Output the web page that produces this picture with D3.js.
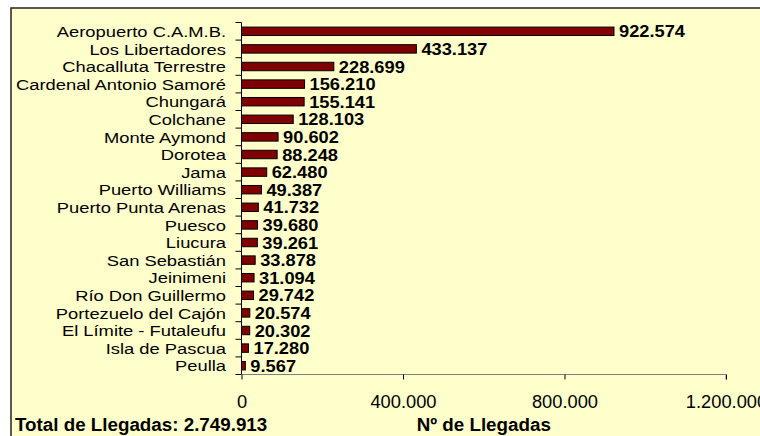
<!DOCTYPE html>
<html>
<head>
<meta charset="utf-8">
<script src="https://cdn.jsdelivr.net/npm/d3@7"></script>
<style>
  body { margin: 0; background: #fff; }
  svg { display: block; font-family: "Liberation Sans", Arial, sans-serif; }
</style>
</head>
<body>
<div id="chart"></div>
<script>
const categories = [
  "Aeropuerto C.A.M.B.", "Los Libertadores", "Chacalluta Terrestre",
  "Cardenal Antonio Samoré", "Chungará", "Colchane", "Monte Aymond",
  "Dorotea", "Jama", "Puerto Williams", "Puerto Punta Arenas", "Puesco",
  "Liucura", "San Sebastián", "Jeinimeni", "Río Don Guillermo",
  "Portezuelo del Cajón", "El Límite - Futaleufu", "Isla de Pascua", "Peulla"
];
const arrivals = [
  922574, 433137, 228699, 156210, 155141, 128103, 90602, 88248, 62480,
  49387, 41732, 39680, 39261, 33878, 31094, 29742, 20574, 20302, 17280, 9567
];
const xTicks = [0, 400000, 800000, 1200000];
const totalLabel = "Total de Llegadas: 2.749.913";
const axisTitle = "Nº de Llegadas";

const w = 760;
const h = 436;

// miles con punto
const fmt = v => d3.format(",")(v).replace(/,/g, ".");

const svg = d3.select("#chart")
  .append("svg")
  .attr("width", w)
  .attr("height", h);

svg.append("rect")
  .attr("x", 11).attr("y", 8)
  .attr("width", w + 20).attr("height", h + 20)
  .attr("fill", "#ffffcc")
  .attr("stroke", "#222")
  .attr("stroke-width", 1.5);

const xScale = d3.scaleLinear()
  .domain([0, 1200000])
  .range([241.5, 726]);
const yTop = 22.5;
const yBottom = 374.5;
const yScale = d3.scaleBand()
  .domain(categories)
  .range([yTop, yBottom])
  .paddingInner(0.52)
  .paddingOuter(0.26);

const data = categories.map((c, i) => ({ name: c, value: arrivals[i] }));

// bars
svg.selectAll("rect.bar")
  .data(data)
  .enter()
  .append("rect")
  .attr("class", "bar")
  .attr("x", xScale(0))
  .attr("y", d => yScale(d.name))
  .attr("width", d => xScale(d.value) - xScale(0))
  .attr("height", yScale.bandwidth())
  .attr("fill", "#800000")
  .attr("stroke", "#000")
  .attr("stroke-width", 1);

// value labels (a bit wide, like the original)
svg.selectAll("text.val")
  .data(data)
  .enter()
  .append("text")
  .attr("class", "val")
  .attr("transform", d => `translate(${xScale(d.value) + 5},${yScale(d.name) + yScale.bandwidth() / 2}) scale(1.1,1)`)
  .attr("dy", "0.37em")
  .attr("font-size", "16.6px")
  .attr("font-weight", "bold")
  .attr("fill", "#000")
  .text(d => fmt(d.value));

// y axis (category boundaries as ticks)
const step = yScale.step();
svg.append("line")
  .attr("x1", xScale(0)).attr("x2", xScale(0))
  .attr("y1", yTop).attr("y2", yBottom)
  .attr("stroke", "#000");
svg.selectAll("line.ytick")
  .data(d3.range(categories.length + 1))
  .enter()
  .append("line")
  .attr("class", "ytick")
  .attr("x1", xScale(0) - 6).attr("x2", xScale(0))
  .attr("y1", i => yTop + i * step)
  .attr("y2", i => yTop + i * step)
  .attr("stroke", "#000");
// category labels are wider than tall in the original, so stretch them
svg.selectAll("text.cat")
  .data(categories)
  .enter()
  .append("text")
  .attr("class", "cat")
  .attr("transform", d => `translate(226,${yScale(d) + yScale.bandwidth() / 2}) scale(1.2,1)`)
  .attr("dy", "0.37em")
  .attr("text-anchor", "end")
  .attr("font-size", "15.3px")
  .attr("fill", "#000")
  .text(d => d);

// x axis
const xAxis = d3.axisBottom(xScale)
  .tickValues(xTicks)
  .tickSize(5)
  .tickPadding(16)
  .tickFormat(fmt);
const gx = svg.append("g")
  .attr("transform", `translate(0,${yBottom})`)
  .call(xAxis);
gx.select(".domain").attr("stroke", "#808080").attr("d", `M${xScale(0)},0H${xScale(1200000)}V5`);
gx.selectAll(".tick line").attr("stroke", "#000");
gx.selectAll(".tick text")
  .attr("font-size", "18.3px")
  .attr("font-family", "Liberation Sans, Arial, sans-serif")
  .attr("fill", "#000");

svg.append("text")
  .attr("x", 15)
  .attr("y", 431)
  .attr("font-size", "18.8px")
  .attr("font-weight", "bold")
  .text(totalLabel);

svg.append("text")
  .attr("x", (xScale(0) + xScale(1200000)) / 2)
  .attr("y", 431)
  .attr("text-anchor", "middle")
  .attr("font-size", "18.8px")
  .attr("font-weight", "bold")
  .text(axisTitle);
</script>
</body>
</html>
